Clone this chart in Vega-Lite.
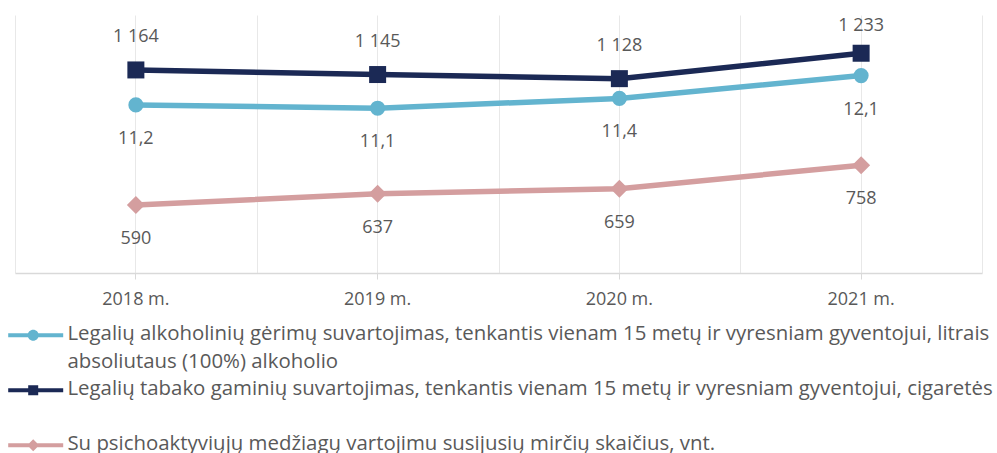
{
  "$schema": "https://vega.github.io/schema/vega-lite/v6.json",
  "width": 967,
  "height": 258,
  "autosize": {"type": "none"},
  "padding": {"left": 15, "top": 15, "right": 15, "bottom": 180},
  "config": {
    "view": {"stroke": null},
    "font": "Open Sans",
    "locale": {"number": {"decimal": ",", "thousands": " ", "grouping": [3], "currency": ["", " €"]}}
  },
  "data": {
    "values": [
      {"year": "2018 m.", "series": "Legalių alkoholinių gėrimų suvartojimas, tenkantis vienam 15 metų ir vyresniam gyventojui, litrais absoliutaus (100%) alkoholio", "value": 11.2},
      {"year": "2019 m.", "series": "Legalių alkoholinių gėrimų suvartojimas, tenkantis vienam 15 metų ir vyresniam gyventojui, litrais absoliutaus (100%) alkoholio", "value": 11.1},
      {"year": "2020 m.", "series": "Legalių alkoholinių gėrimų suvartojimas, tenkantis vienam 15 metų ir vyresniam gyventojui, litrais absoliutaus (100%) alkoholio", "value": 11.4},
      {"year": "2021 m.", "series": "Legalių alkoholinių gėrimų suvartojimas, tenkantis vienam 15 metų ir vyresniam gyventojui, litrais absoliutaus (100%) alkoholio", "value": 12.1},
      {"year": "2018 m.", "series": "Legalių tabako gaminių suvartojimas, tenkantis vienam 15 metų ir vyresniam gyventojui, cigaretės", "value": 1164},
      {"year": "2019 m.", "series": "Legalių tabako gaminių suvartojimas, tenkantis vienam 15 metų ir vyresniam gyventojui, cigaretės", "value": 1145},
      {"year": "2020 m.", "series": "Legalių tabako gaminių suvartojimas, tenkantis vienam 15 metų ir vyresniam gyventojui, cigaretės", "value": 1128},
      {"year": "2021 m.", "series": "Legalių tabako gaminių suvartojimas, tenkantis vienam 15 metų ir vyresniam gyventojui, cigaretės", "value": 1233},
      {"year": "2018 m.", "series": "Su psichoaktyviųjų medžiagų vartojimu susijusių mirčių skaičius, vnt.", "value": 590},
      {"year": "2019 m.", "series": "Su psichoaktyviųjų medžiagų vartojimu susijusių mirčių skaičius, vnt.", "value": 637},
      {"year": "2020 m.", "series": "Su psichoaktyviųjų medžiagų vartojimu susijusių mirčių skaičius, vnt.", "value": 659},
      {"year": "2021 m.", "series": "Su psichoaktyviųjų medžiagų vartojimu susijusių mirčių skaičius, vnt.", "value": 758}
    ]
  },
  "encoding": {
    "color": {
      "field": "series",
      "type": "nominal",
      "sort": null,
      "scale": {
        "domain": [
          "Legalių alkoholinių gėrimų suvartojimas, tenkantis vienam 15 metų ir vyresniam gyventojui, litrais absoliutaus (100%) alkoholio",
          "Legalių tabako gaminių suvartojimas, tenkantis vienam 15 metų ir vyresniam gyventojui, cigaretės",
          "Su psichoaktyviųjų medžiagų vartojimu susijusių mirčių skaičius, vnt."
        ],
        "range": ["#63b4cf", "#1b2955", "#d49e9f"]
      },
      "legend": {
        "orient": "none",
        "legendX": -7,
        "legendY": 310,
        "direction": "vertical",
        "title": null,
        "padding": 0,
        "symbolSize": 400,
        "symbolStrokeWidth": 0,
        "labelFont": "Open Sans",
        "labelFontSize": 20.4,
        "labelColor": "#595959",
        "labelLimit": 1200,
        "labelOffset": 39,
        "labelBaseline": "top",
        "gridAlign": "all",
        "rowPadding": 6,
        "labelExpr": "indexof(datum.label, ' absoliutaus') > 0 ? [substring(datum.label, 0, indexof(datum.label, ' absoliutaus')), substring(datum.label, indexof(datum.label, ' absoliutaus') + 1)] : datum.label",
        "encode": {
          "symbols": {
            "update": {
              "shape": {"signal": "indexof(datum.value, 'alkohol') >= 0 ? 'M-1,-0.2H4.5V0.2H-1Z M0.95,0A0.55,0.55,0,1,1,2.05,0A0.55,0.55,0,1,1,0.95,0Z' : indexof(datum.value, 'tabako') >= 0 ? 'M-1,-0.2H4.5V0.2H-1Z M1,-0.5H2V0.5H1Z' : 'M-1,-0.2H4.5V0.2H-1Z M1.5,-0.6L2.1,0L1.5,0.6L0.9,0Z'"},
              "fill": {"scale": "color", "field": "value"},
              "opacity": {"value": 1}
            }
          },
          "labels": {"update": {"lineHeight": {"value": 27.5}, "dy": {"value": -11}}}
        }
      }
    }
  },
  "layer": [
    {
      "transform": [{"filter": {"field": "series", "equal": "Legalių alkoholinių gėrimų suvartojimas, tenkantis vienam 15 metų ir vyresniam gyventojui, litrais absoliutaus (100%) alkoholio"}}],
      "encoding": {
        "x": {
          "field": "year", "type": "ordinal", "sort": null,
          "scale": {"type": "band", "paddingInner": 0, "paddingOuter": 0},
          "axis": {"orient": "top", "tickBand": "extent", "grid": true, "gridColor": "#e8e8e8", "gridWidth": 1, "labels": false, "ticks": false, "domain": false, "title": null}
        },
        "y": {"field": "value", "type": "quantitative", "scale": {"domain": [6.04, 13.96], "zero": false, "nice": false}, "axis": null}
      },
      "layer": [
        {"mark": {"type": "line", "strokeWidth": 5.5}},
        {"mark": {"type": "point", "shape": "circle", "filled": true, "opacity": 1, "size": 227}},
        {"mark": {"type": "text", "dy": 34, "fontSize": 18, "font": "Open Sans"}, "encoding": {"text": {"field": "value", "type": "quantitative", "format": ".1f"}, "color": {"value": "#595959"}}}
      ]
    },
    {
      "transform": [{"filter": {"field": "series", "equal": "Legalių tabako gaminių suvartojimas, tenkantis vienam 15 metų ir vyresniam gyventojui, cigaretės"}}],
      "encoding": {
        "x": {
          "field": "year", "type": "ordinal", "sort": null,
          "scale": {"type": "band", "paddingInner": 0, "paddingOuter": 0},
          "axis": {"orient": "bottom", "grid": true, "gridColor": "#e8e8e8", "gridWidth": 1, "domainColor": "#d9d9d9", "domainWidth": 1.5, "tickColor": "#d9d9d9", "tickSize": 6, "labelFontSize": 18, "labelFont": "Open Sans", "labelColor": "#595959", "labelPadding": 11, "labelAngle": 0, "title": null}
        },
        "y": {"field": "value", "type": "quantitative", "scale": {"domain": [325, 1391], "zero": false, "nice": false}, "axis": null}
      },
      "layer": [
        {"mark": {"type": "line", "strokeWidth": 5.5}},
        {"mark": {"type": "point", "shape": "square", "filled": true, "opacity": 1, "size": 289}},
        {"transform": [{"filter": "datum.year != '2021 m.'"}], "mark": {"type": "text", "dy": -33, "fontSize": 18, "font": "Open Sans"}, "encoding": {"text": {"field": "value", "type": "quantitative", "format": ",.0f"}, "color": {"value": "#595959"}}},
        {"transform": [{"filter": "datum.year == '2021 m.'"}], "mark": {"type": "text", "dy": -27, "fontSize": 18, "font": "Open Sans"}, "encoding": {"text": {"field": "value", "type": "quantitative", "format": ",.0f"}, "color": {"value": "#595959"}}}
      ]
    },
    {
      "transform": [{"filter": {"field": "series", "equal": "Su psichoaktyviųjų medžiagų vartojimu susijusių mirčių skaičius, vnt."}}],
      "encoding": {
        "x": {
          "field": "year", "type": "ordinal", "sort": null,
          "scale": {"type": "band", "paddingInner": 0, "paddingOuter": 0},
          "axis": null
        },
        "y": {"field": "value", "type": "quantitative", "scale": {"domain": [302, 1394], "zero": false, "nice": false}, "axis": null}
      },
      "layer": [
        {"mark": {"type": "line", "strokeWidth": 5.5}},
        {"mark": {"type": "point", "shape": "diamond", "filled": true, "opacity": 1, "size": 324}},
        {"mark": {"type": "text", "dy": 34, "fontSize": 18, "font": "Open Sans"}, "encoding": {"text": {"field": "value", "type": "quantitative", "format": ",.0f"}, "color": {"value": "#595959"}}}
      ]
    }
  ],
  "resolve": {"scale": {"y": "independent"}, "axis": {"x": "independent", "y": "independent"}}
}
